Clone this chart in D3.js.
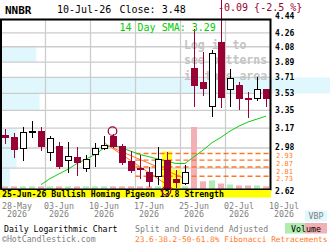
<!DOCTYPE html>
<html>
<head>
<meta charset="utf-8">
<script src="https://cdn.jsdelivr.net/npm/d3@7"></script>
<style>
body { margin: 0; background: #fff; }
svg { display: block; }
text { font-family: "DejaVu Sans Mono", monospace; }
</style>
</head>
<body>
<div id="wrapper"></div>
<script>
// 1. data
const ticker = "NNBR"
const lastDate = "10-Jul-26"
const lastClose = "3.48"
const change = "-0.09 {-2.5 %}"
const smaLabel = "14 Day SMA: 3.29"
const patternText = "25-Jun-26 Bullish Homing Pigeon 13.8 Strength"

const opens  = [3.10,3.08,2.98,3.13,3.14,2.94,2.99,2.87,2.89,2.80,2.92,2.98,3.09,2.99,2.86,2.80,2.76,2.73,2.87,2.70,2.67,3.81,3.65,3.39,4.13,3.57,3.62,3.48,3.47,3.57]
const highs  = [3.16,3.12,3.18,3.24,3.18,3.09,3.04,3.04,2.99,2.92,3.03,3.09,3.11,3.02,2.95,2.92,2.81,2.99,2.94,2.78,2.83,4.31,4.01,4.04,4.75,3.81,3.66,3.55,3.72,3.57]
const lows   = [3.02,2.89,2.86,3.07,2.95,2.86,2.79,2.76,2.73,2.77,2.81,2.96,2.98,2.83,2.76,2.71,2.64,2.66,2.58,2.63,2.66,3.38,3.50,3.28,3.37,3.38,3.35,3.27,3.45,3.38]
const closes = [3.08,2.97,3.13,3.14,2.99,3.07,2.81,2.90,2.85,2.88,2.98,3.00,2.99,2.85,2.78,2.79,2.69,2.88,2.62,2.68,2.76,3.62,3.58,3.99,3.49,3.70,3.48,3.46,3.57,3.48]
const volumes = [5,5,5,5,5,5,5,5,5,5,5,5,5,5,5,5,5,5,5,5,5,100,13,14.5,9.5,8,6.5,6.5,6.5,5]
const sma14 = [null,null,null,null,2.66,2.71,2.75,2.79,2.84,2.88,2.92,2.98,3.01,2.98,2.95,2.92,2.90,2.88,2.86,2.84,2.84,2.90,2.96,3.03,3.08,3.14,3.19,3.23,3.26,3.29]

const yTicks = [4.44,4.26,4.08,3.89,3.71,3.53,3.35,3.17,2.98,2.80,2.62]
const vbp = [0,0,11,0,100,12,0,5,5,3]   // volume by price, one per band between ticks
const fibLevels = [2.93,2.87,2.81,2.73]
const fibStart = 14.5
const trendLines = [
    { i0: 11, v0: 3.03, i1: 19, v1: 2.61 },
    { i0: 12, v0: 2.98, i1: 20, v1: 2.71 },
]
const swingMarks = [ { i: 12, v: 3.14 }, { i: 18, v: 2.61 } ]
const patternDays = [18, 19]

const xTickIdx = [1,6,11,16,21,26,31]
const xTickLabels = ["28-May","03-Jun","10-Jun","17-Jun","25-Jun","02-Jul","10-Jul"]
const xTickYear = "2026"
const weekLines = [4.5,9.5,14.5,19.5,24.5]

const red = "#990033"
const orange = "#ff7722"
const green = "#11cc11"

// 2. dimensions
const dimensions = {
    width: 330,
    height: 245,
    left: 0.5,
    right: 270.5,
    top: 19.5,
    bottom: 189.5,
}

// 3. canvas
const svg = d3.select("#wrapper")
    .append("svg")
    .attr("width", dimensions.width)
    .attr("height", dimensions.height)

// scales
const xScale = d3.scaleLinear()
    .domain([-0.5, 29.5])
    .range([dimensions.left, dimensions.right])

const yScale = d3.scaleLog()
    .domain([2.62, 4.44])
    .range([dimensions.bottom, dimensions.top])

const vbpScale = d3.scaleLinear().domain([0, 100]).range([0, 330])
const volScale = d3.scaleLinear().domain([0, 100]).range([dimensions.bottom, 127])

// volume by price bands
svg.append("g").selectAll("rect")
    .data(vbp)
    .join("rect")
    .attr("x", 0)
    .attr("y", (d, k) => yScale(yTicks[k]))
    .attr("width", d => vbpScale(d))
    .attr("height", (d, k) => yScale(yTicks[k + 1]) - yScale(yTicks[k]))
    .attr("fill", "#e0f8fd")

// grid
const grid = svg.append("g").attr("stroke", "#cccccc").attr("stroke-width", 1.3)
grid.selectAll(".h")
    .data(yTicks)
    .join("line")
    .attr("x1", dimensions.left).attr("x2", dimensions.right)
    .attr("y1", d => yScale(d)).attr("y2", d => yScale(d))
grid.selectAll(".v")
    .data(weekLines)
    .join("line")
    .attr("x1", d => xScale(d)).attr("x2", d => xScale(d))
    .attr("y1", dimensions.top).attr("y2", dimensions.bottom)

// login text
svg.append("g")
    .selectAll("text")
    .data(["Log in to", "see patterns", "in this area"])
    .join("text")
    .attr("x", 184)
    .attr("y", (d, k) => 49 + k * 15.3)
    .attr("font-size", 11.5)
    .attr("font-weight", "bold")
    .attr("fill", "#c4c4c4")
    .text(d => d)

// volume bars
svg.append("g").selectAll("rect")
    .data(volumes)
    .join("rect")
    .attr("x", (d, i) => xScale(i) - 3)
    .attr("width", 6)
    .attr("y", d => volScale(d))
    .attr("height", d => dimensions.bottom - volScale(d))
    .attr("fill", (d, i) => closes[i] >= opens[i] ? "#b0ecb0" : "#f2b0b4")

// pattern highlight
svg.append("g").selectAll("rect")
    .data(patternDays)
    .join("rect")
    .attr("x", i => xScale(i) - 5)
    .attr("width", 10)
    .attr("y", i => yScale(highs[i]) - 1)
    .attr("height", i => dimensions.bottom - yScale(highs[i]) + 1)
    .attr("fill", "#ffff22")

// fibonacci lines
svg.append("g").selectAll("line")
    .data(fibLevels)
    .join("line")
    .attr("x1", xScale(fibStart)).attr("x2", dimensions.right)
    .attr("y1", d => yScale(d)).attr("y2", d => yScale(d))
    .attr("stroke", orange)
    .attr("stroke-width", 1.4)
    .attr("stroke-dasharray", "5,3")

svg.append("g").selectAll("line")
    .data(trendLines)
    .join("line")
    .attr("x1", d => xScale(d.i0)).attr("y1", d => yScale(d.v0))
    .attr("x2", d => xScale(d.i1)).attr("y2", d => yScale(d.v1))
    .attr("stroke", orange)
    .attr("stroke-width", 1)

// SMA
const lineGenerator = d3.line()
    .defined(d => d != null)
    .x((d, i) => xScale(i))
    .y(d => yScale(d))

svg.append("path")
    .attr("d", lineGenerator(sma14))
    .attr("fill", "none")
    .attr("stroke", green)
    .attr("stroke-width", 1)

// candles
const idx = d3.range(opens.length)
const candles = svg.append("g").attr("shape-rendering", "crispEdges")
candles.selectAll("line")
    .data(idx)
    .join("line")
    .attr("x1", i => xScale(i) + 0.5).attr("x2", i => xScale(i) + 0.5)
    .attr("y1", i => yScale(highs[i])).attr("y2", i => yScale(lows[i]))
    .attr("stroke", i => closes[i] >= opens[i] ? "#000" : red)
    .attr("stroke-width", 1)
candles.selectAll("rect")
    .data(idx)
    .join("rect")
    .attr("x", i => xScale(i) - 2.5)
    .attr("width", 6)
    .attr("y", i => yScale(Math.max(opens[i], closes[i])))
    .attr("height", i => Math.max(1, Math.abs(yScale(opens[i]) - yScale(closes[i]))))
    .attr("fill", i => closes[i] >= opens[i] ? "#fff" : red)
    .attr("stroke", i => closes[i] >= opens[i] ? "#000" : red)
    .attr("stroke-width", 1)

// frame
svg.append("path")
    .attr("d", `M${dimensions.left + 0.5},${dimensions.bottom} V${dimensions.top} H${dimensions.right} V${dimensions.bottom} H${dimensions.left}`)
    .attr("fill", "none")
    .attr("stroke", "#000")
    .attr("stroke-width", 2)

// pattern bar
svg.append("rect")
    .attr("x", 0).attr("y", 190)
    .attr("width", 271).attr("height", 7.5)
    .attr("fill", "#ffff00")
svg.append("text")
    .attr("x", 2).attr("y", 196.5)
    .attr("font-size", 8.2)
    .attr("font-weight", "bold")
    .attr("fill", "#000")
    .text(patternText)

// swing marks
svg.append("g").selectAll("circle")
    .data(swingMarks)
    .join("circle")
    .attr("cx", d => xScale(d.i) - 0.5)
    .attr("cy", d => yScale(d.v))
    .attr("r", 4.3)
    .attr("fill", "none")
    .attr("stroke", red)
    .attr("stroke-width", 1.2)

// y axis labels (fib labels pushed apart so they don't collide)
const fibY = []
fibLevels.forEach((v, k) => {
    let y = yScale(v) + 1.8
    if (k > 0) y = Math.max(y, fibY[k - 1] + 7.9)
    fibY.push(y)
})
const tickLabelY = d => {
    let y = yScale(d)
    if (d === yTicks[0]) y -= 3.5
    if (d === yTicks[yTicks.length - 1]) y += 1.5
    if (y < fibY[0] && fibY[0] - y < 8.4) y = fibY[0] - 8.4
    return y
}
svg.append("g").selectAll("text")
    .data(yTicks.filter(v => fibY.every(fy => Math.abs(fy - yScale(v)) > 5)))
    .join("text")
    .attr("x", 275)
    .attr("y", d => tickLabelY(d))
    .attr("dy", "0.36em")
    .attr("font-size", 8)
    .attr("font-weight", "bold")
    .attr("fill", "#000")
    .text(d => d.toFixed(2))

svg.append("g").selectAll("text")
    .data(fibLevels)
    .join("text")
    .attr("x", 276)
    .attr("y", (d, k) => fibY[k])
    .attr("dy", "0.36em")
    .attr("font-size", 7)
    .attr("fill", orange)
    .text(d => d.toFixed(2))

// x axis labels
const xLab = svg.append("g").attr("font-size", 8.3).attr("fill", "#808080").attr("text-anchor", "middle")
xTickIdx.forEach((t, k) => {
    const cx = Math.max(17, xScale(t))
    xLab.append("text").attr("x", cx).attr("y", 208.5).text(xTickLabels[k])
    xLab.append("text").attr("x", cx).attr("y", 217).text(xTickYear)
})

// title
svg.append("text").attr("x", 5).attr("y", 13.5)
    .attr("font-size", 11).attr("font-weight", "bold").text(ticker)
svg.append("text").attr("x", 57).attr("y", 13)
    .attr("font-size", 10).text(lastDate)
svg.append("text").attr("x", 119.5).attr("y", 13)
    .attr("font-size", 10).text("Close: " + lastClose)
svg.append("text").attr("x", 218).attr("y", 10.5)
    .attr("font-size", 10).attr("fill", red).text(change)
svg.append("text").attr("x", 119.5).attr("y", 30.5)
    .attr("font-size", 10).attr("fill", "#00cc00").text(smaLabel)

// legend boxes
svg.append("rect").attr("x", 305).attr("y", 210.5).attr("width", 22).attr("height", 11).attr("fill", "#e0f8fd")
svg.append("text").attr("x", 316).attr("y", 219).attr("text-anchor", "middle")
    .attr("font-size", 8.3).attr("fill", "#808080").text("VBP")
svg.append("rect").attr("x", 285).attr("y", 223).attr("width", 20).attr("height", 10.5).attr("fill", "#b0ecb0")
svg.append("rect").attr("x", 305).attr("y", 223).attr("width", 22).attr("height", 10.5).attr("fill", "#f2b0b4")
svg.append("text").attr("x", 306).attr("y", 231.5).attr("text-anchor", "middle")
    .attr("font-size", 8.3).attr("fill", "#000").text("Volume")

// footer
svg.append("text").attr("x", 4).attr("y", 232)
    .attr("font-size", 8.2).attr("fill", "#000").text("Daily Logarithmic Chart")
svg.append("text").attr("x", 135).attr("y", 232)
    .attr("font-size", 8.2).attr("fill", "#808080").text("Split and Dividend Adjusted")
svg.append("text").attr("x", 2).attr("y", 241.5)
    .attr("font-size", 8.2).attr("fill", "#808080").text("\u00a9HotCandlestick.com")
svg.append("text").attr("x", 135).attr("y", 241.5)
    .attr("font-size", 7.8).attr("fill", orange).text("23.6-38.2-50-61.8% Fibonacci Retracements")
</script>
</body>
</html>
